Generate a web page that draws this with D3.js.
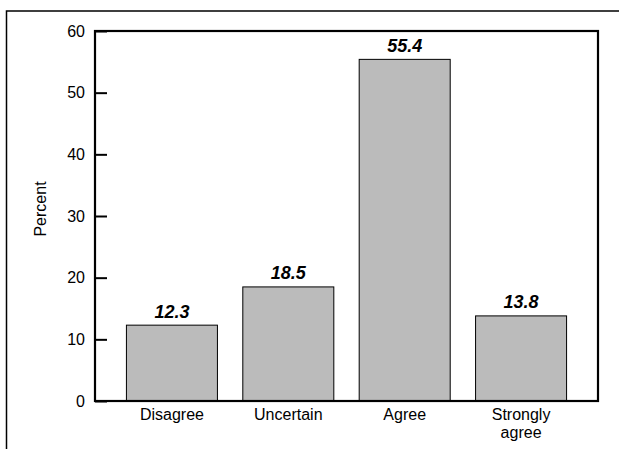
<!DOCTYPE html>
<html><head><meta charset="utf-8">
<script src="https://cdn.jsdelivr.net/npm/d3@7"></script>
<style>body{margin:0;background:#fff;} svg{display:block;font-family:"Liberation Sans",Arial,sans-serif;}</style>
</head><body>
<svg id="c" width="619" height="449"></svg>
<script>
const categories = [["Disagree"], ["Uncertain"], ["Agree"], ["Strongly", "agree"]];
const values = [12.3, 18.5, 55.4, 13.8];
const yTicks = [0, 10, 20, 30, 40, 50, 60];
const yLabel = "Percent";

const svg = d3.select("#c");
const L = 95, R = 598, T = 31, B = 401;

// outer frame
svg.append("path").attr("d", "M6.5,449 V11 H619").attr("fill","none").attr("stroke","#000").attr("stroke-width",1.5);

const x = d3.scaleBand().domain(d3.range(values.length)).range([L, R]).paddingInner(0.218).paddingOuter(0.27);
const y = d3.scaleLinear().domain([0, 60]).range([B, T]);

// bars
svg.selectAll("rect.bar").data(values).enter().append("rect")
  .attr("x", (d,i)=>x(i)).attr("y", d=>y(d))
  .attr("width", x.bandwidth()).attr("height", d=>B - y(d))
  .attr("fill","#bbbbbb").attr("stroke","#000").attr("stroke-width",1);

// value labels
svg.selectAll("text.val").data(values).enter().append("text")
  .attr("x",(d,i)=>x(i)+x.bandwidth()/2).attr("y", d=>y(d)-7.5)
  .attr("text-anchor","middle").attr("font-size",18).attr("font-weight","bold").attr("font-style","italic")
  .text(d=>d.toFixed(1));

// plot frame
svg.append("rect").attr("x",L).attr("y",T).attr("width",R-L).attr("height",B-T)
  .attr("fill","none").attr("stroke","#000").attr("stroke-width",2.2);

// y axis ticks (inward)
const yAxis = d3.axisLeft(y).tickValues(yTicks).tickSize(-12).tickPadding(10).tickFormat(d3.format("d"));
const ga = svg.append("g").attr("transform",`translate(${L},0)`).call(yAxis);
ga.attr("font-size",16).attr("font-family","Liberation Sans, Arial, sans-serif");
ga.select(".domain").remove();
ga.selectAll(".tick line").attr("stroke","#000").attr("stroke-width",2);
ga.selectAll(".tick text").attr("fill","#000");

// y label
svg.append("text").attr("transform",`translate(46,209) rotate(-90)`)
  .attr("text-anchor","middle").attr("font-size",16).text(yLabel);

// category labels
const cg = svg.selectAll("text.cat").data(categories).enter().append("text")
  .attr("text-anchor","middle").attr("font-size",16);
cg.each(function(lines,i){
  const t = d3.select(this);
  lines.forEach((ln,j)=>{
    t.append("tspan").attr("x", x(i)+x.bandwidth()/2).attr("y", 420 + j*17.5).text(ln);
  });
});
</script>
</body></html>
